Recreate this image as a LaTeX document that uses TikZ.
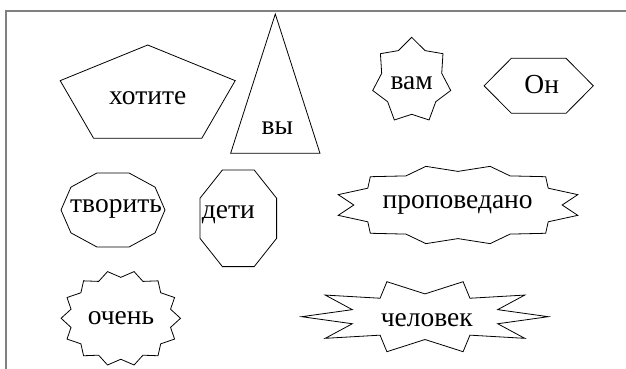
\documentclass[tikz,border=0pt]{standalone}
\usepackage{fontspec}
\setmainfont{Liberation Serif}
\begin{document}
\begin{tikzpicture}[x=1pt, y=1pt,
    outline/.style={line width=0.8pt},
    word/.style={font=\fontsize{27.5}{30}\selectfont, inner sep=0pt}]
  \useasboundingbox (0,0) rectangle (626,369);

  % outer frame (only top and left side are visible)
  \draw[gray, line width=1.3pt] (6,0) -- (6,358) -- (626,358);

  % shape 1: pentagon
  \draw[outline, shift={(147.7,272.4)}, xscale=92, yscale=51.6]
    (90:1) \foreach \k in {1,...,4} {-- ({90+\k*72}:1)} -- cycle;
  \node[word] (want) at (147.7,270.7) {хотите};

  % shape 2: triangle
  \draw[outline, shift={(275.3,262.1)}, xscale=51.6, yscale=92.9]
    (90:1) \foreach \k in {1,2} {-- ({90+\k*120}:1)} -- cycle;
  \node[word] (you) at (277.3,240.7) {вы};

  % shape 3: seven point star
  \draw[outline, shift={(411.7,288.2)}, xscale=40, yscale=43.5]
    (90:1) \foreach \k in {1,...,13} {-- ({90+\k*360/14}:{1-0.23*isodd(\k)})} -- cycle;
  \node[word] (to) at (411.7,285.7) {вам};

  % shape 4: hexagon
  \draw[outline, shift={(538.7,283.2)}, xscale=54.6, yscale=31.8]
    (0:1) \foreach \k in {1,...,5} {-- ({\k*60}:1)} -- cycle;
  \node[word] (he) at (541.7,284) {Он};

  % shape 5: decagon
  \draw[outline, shift={(113,159)}, xscale=52, yscale=38.9]
    (0:1) \foreach \k in {1,...,9} {-- ({\k*36}:1)} -- cycle;
  \node[word] (create) at (116,159.7) {творить};

  % shape 6: octagon
  \draw[outline, shift={(238.3,150.7)}, xscale=41.5, yscale=52.3]
    (22.5:1) \foreach \k in {1,...,7} {-- ({22.5+\k*45}:1)} -- cycle;
  \node[word] (children) at (228.3,154) {дети};

  % shape 7: twelve point star, flat
  \draw[outline, shift={(458,164)}, xscale=124, yscale=40]
    (15:1) \foreach \k in {1,...,23} {-- ({15+\k*15}:{1-0.16*isodd(\k)})} -- cycle;
  \node[word] (preached) at (457.7,164) {проповедано};

  % shape 8: fourteen point star
  \draw[outline, shift={(120.8,50.7)}, xscale=59.7, yscale=47.9]
    (0:1) \foreach \k in {1,...,27} {-- ({\k*360/28}:{1-0.145*isodd(\k)})} -- cycle;
  \node[word] (very) at (121,50.7) {очень};

  % shape 9: ten point star, sharp
  \draw[outline, shift={(425,52.3)}, xscale=123.3, yscale=36.8]
    (0:1) \foreach \k in {1,...,19} {-- ({\k*18}:{1-0.38*isodd(\k)})} -- cycle;
  \node[word] (person) at (426.7,49) {человек};
\end{tikzpicture}
\end{document}
